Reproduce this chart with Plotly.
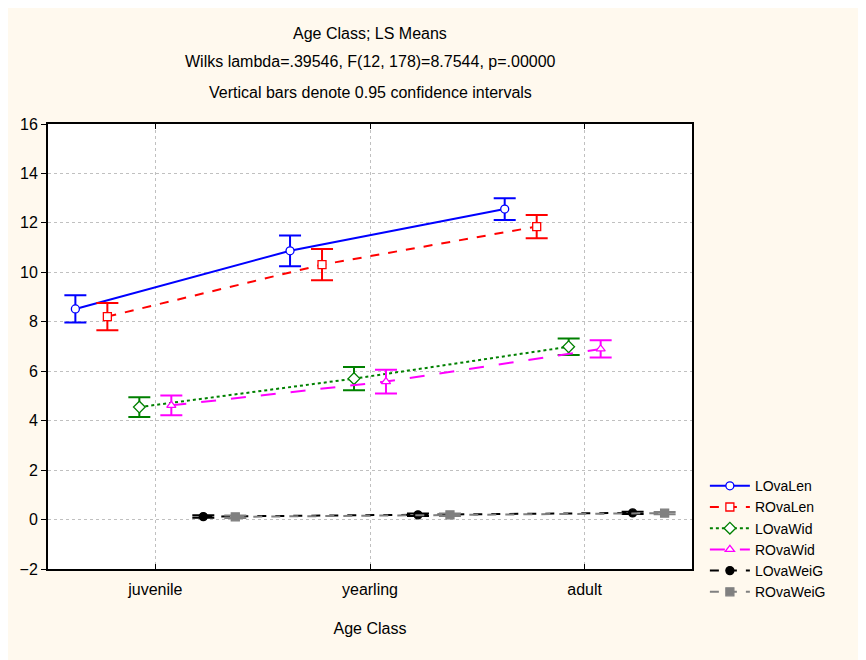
import plotly.graph_objects as go

categories = ["juvenile", "yearling", "adult"]

series_names = ["LOvaLen", "ROvaLen", "LOvaWid", "ROvaWid", "LOvaWeiG", "ROvaWeiG"]

LOvaLen_mean = [8.52, 10.87, 12.56]
LOvaLen_ci = [0.55, 0.62, 0.44]
ROvaLen_mean = [8.21, 10.31, 11.85]
ROvaLen_ci = [0.55, 0.63, 0.47]
LOvaWid_mean = [4.55, 5.70, 6.99]
LOvaWid_ci = [0.40, 0.47, 0.33]
ROvaWid_mean = [4.62, 5.58, 6.90]
ROvaWid_ci = [0.40, 0.48, 0.35]
LOvaWeiG_mean = [0.12, 0.19, 0.27]
LOvaWeiG_ci = [0.05, 0.05, 0.05]
ROvaWeiG_mean = [0.11, 0.19, 0.26]
ROvaWeiG_ci = [0.05, 0.05, 0.05]

y_ticks = [-2, 0, 2, 4, 6, 8, 10, 12, 14, 16]

means = [LOvaLen_mean, ROvaLen_mean, LOvaWid_mean, ROvaWid_mean, LOvaWeiG_mean, ROvaWeiG_mean]
cis = [LOvaLen_ci, ROvaLen_ci, LOvaWid_ci, ROvaWid_ci, LOvaWeiG_ci, ROvaWeiG_ci]

styles = [
    dict(color="#0000FF", dash="solid", symbol="circle", fill="white"),
    dict(color="#FF0000", dash="dash", symbol="square", fill="white"),
    dict(color="#008000", dash="dot", symbol="diamond", fill="white"),
    dict(color="#FF00FF", dash="longdash", symbol="triangle-up", fill="white"),
    dict(color="#000000", dash="dash", symbol="circle", fill="#000000"),
    dict(color="#808080", dash="dash", symbol="square", fill="#808080"),
]

step = 0.149
fig = go.Figure()
for i, (name, m, c, st) in enumerate(zip(series_names, means, cis, styles)):
    off = (i - 2.5) * step
    xs = [k + off for k in range(len(categories))]
    fig.add_trace(go.Scatter(
        x=xs, y=m, name=name, mode="lines+markers",
        line=dict(color=st["color"], width=2, dash=st["dash"]),
        marker=dict(symbol=st["symbol"], size=8 if st["symbol"] != "diamond" else 9,
                    color=st["fill"], line=dict(color=st["color"], width=1.3)),
        error_y=dict(type="data", array=c, visible=True, color=st["color"],
                     thickness=2, width=11),
    ))

bg = "#FFF9EE"
FS = 16
fig.update_layout(
    width=858, height=652,
    paper_bgcolor=bg, plot_bgcolor="white",
    margin=dict(l=40, r=174, t=116, b=91),
    font=dict(family="Liberation Sans, Arial, sans-serif", size=FS, color="black"),
    showlegend=True,
    legend=dict(x=1.02, y=0.222, xanchor="left", yanchor="top",
                bgcolor="rgba(0,0,0,0)", font=dict(size=14),
                tracegroupgap=0, itemwidth=40),
    xaxis=dict(range=[-0.5, 2.5], tickvals=list(range(len(categories))), ticktext=categories,
               showline=True, linecolor="black", linewidth=2, mirror="ticks",
               ticks="inside", ticklen=5, tickcolor="black",
               showgrid=True, gridcolor="#C0C0C0", griddash="dot", gridwidth=1,
               zeroline=False, ticklabelstandoff=5,
               title=dict(text="Age Class", standoff=26, font=dict(size=FS))),
    yaxis=dict(range=[-2, 16], tickvals=y_ticks,
               showline=True, linecolor="black", linewidth=2, mirror=True,
               ticks="outside", ticklen=5, tickcolor="black",
               showgrid=True, gridcolor="#C0C0C0", griddash="dot", gridwidth=1,
               zeroline=False),
)

titles = ["Age Class; LS Means",
          "Wilks lambda=.39546, F(12, 178)=8.7544, p=.00000",
          "Vertical bars denote 0.95 confidence intervals"]
for t, py in zip(titles, [33, 62, 92]):
    fig.add_annotation(text=t, xref="paper", yref="paper", x=0.5, y=(569 - py) / 445,
                       xanchor="center", yanchor="middle", showarrow=False,
                       font=dict(size=FS))

fig.write_html("out.html")
